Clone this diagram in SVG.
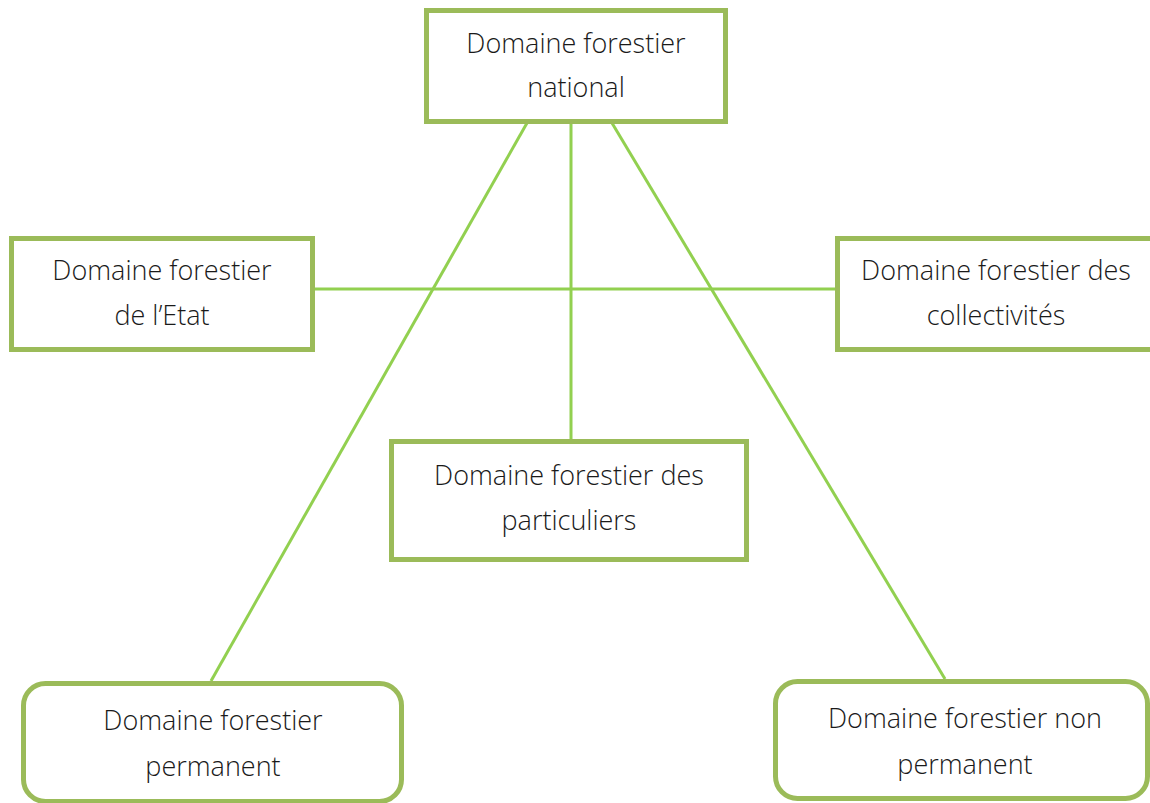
<svg xmlns="http://www.w3.org/2000/svg" width="1150" height="803" viewBox="0 0 1150 803">
<style>
.box{fill:#ffffff;stroke:#9bbb59;stroke-width:5}
.lbl{font-family:"Open Sans","Noto Sans","Liberation Sans",sans-serif;font-weight:300;font-size:27px;fill:#1a1a1a;text-anchor:middle}
.con{stroke:#92d050;stroke-width:3;fill:none}
</style>
<rect width="1150" height="803" fill="#ffffff"/>
<g id="connectors">
<line class="con" x1="571" y1="123" x2="571" y2="439"/>
<line class="con" x1="315" y1="289" x2="835" y2="289"/>
<line class="con" x1="527" y1="123" x2="211" y2="681"/>
<line class="con" x1="612" y1="123" x2="945" y2="679"/>
</g>
<g id="national">
<rect class="box" x="426.5" y="10.5" width="299" height="111"/>
<text class="lbl" x="576" y="53">Domaine forestier</text>
<text class="lbl" x="576" y="97">national</text>
</g>
<g id="etat">
<rect class="box" x="11.5" y="238.5" width="301" height="111"/>
<text class="lbl" x="162" y="280">Domaine forestier</text>
<text class="lbl" x="162" y="325">de l’Etat</text>
</g>
<g id="collectivites">
<rect class="box" x="837.5" y="238.5" width="330" height="111"/>
<text class="lbl" x="996" y="280">Domaine forestier des</text>
<text class="lbl" x="996" y="325">collectivités</text>
</g>
<g id="particuliers">
<rect class="box" x="391.5" y="441.5" width="355" height="118"/>
<text class="lbl" x="569" y="485">Domaine forestier des</text>
<text class="lbl" x="569" y="530">particuliers</text>
</g>
<g id="permanent">
<rect class="box" x="23.5" y="683.5" width="378" height="118" rx="22"/>
<text class="lbl" x="213" y="730">Domaine forestier</text>
<text class="lbl" x="213" y="776">permanent</text>
</g>
<g id="non-permanent">
<rect class="box" x="775.5" y="681.5" width="372" height="117" rx="22"/>
<text class="lbl" x="965" y="728">Domaine forestier non</text>
<text class="lbl" x="965" y="774">permanent</text>
</g>
</svg>
